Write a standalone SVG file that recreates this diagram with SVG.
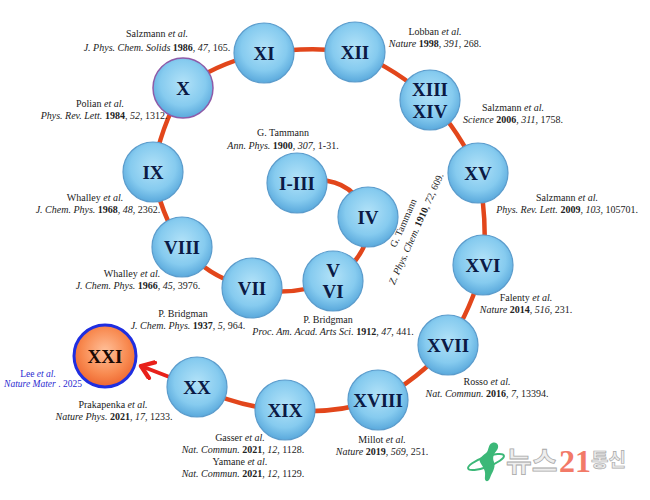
<svg xmlns="http://www.w3.org/2000/svg" width="650" height="500" viewBox="0 0 650 500">
<style>
.lbl{font-family:"Liberation Serif","Times New Roman",serif;font-size:10px;fill:#222;text-anchor:middle}
.i{font-style:italic}
.b{font-weight:bold}
.nt{font-family:"Liberation Serif","Times New Roman",serif;font-weight:bold;font-size:19px;fill:#0b1a45;text-anchor:middle}
.node{fill:url(#blue);stroke:#5b9ccc;stroke-width:1.2}
.con{fill:none;stroke:#e2461b;stroke-width:4.5;stroke-linecap:round}
</style>
<defs>
<radialGradient id="blue" cx="50%" cy="42%" r="58%">
<stop offset="0" stop-color="#b2e2f8"/>
<stop offset="0.65" stop-color="#86cbef"/>
<stop offset="1" stop-color="#5aa9dc"/>
</radialGradient>
<radialGradient id="orange" cx="50%" cy="42%" r="58%">
<stop offset="0" stop-color="#ffc09a"/>
<stop offset="0.65" stop-color="#f8894f"/>
<stop offset="1" stop-color="#ee6630"/>
</radialGradient>
<marker id="arr" viewBox="0 0 12 12" refX="9" refY="6" markerWidth="5" markerHeight="5" orient="auto" markerUnits="strokeWidth">
<path d="M2,1 L9,6 L2,11" fill="none" stroke="#e8201a" stroke-width="2.6" stroke-linecap="round" stroke-linejoin="round"/>
</marker>
</defs>
<rect width="650" height="500" fill="#ffffff"/>

<g id="connectors">
<path class="con" d="M297,183 Q350,170 368,217"/>
<path class="con" d="M368,217 Q372,255 333,280"/>
<path class="con" d="M333,280 Q292,298 252,288"/>
<path class="con" d="M252,288 Q212,280 182,247"/>
<path class="con" d="M182,247 Q160,212 153,172"/>
<path class="con" d="M153,172 Q160,128 183,88"/>
<path class="con" d="M183,88 Q218,62 264,53"/>
<path class="con" d="M264,53 Q309,46 355,52"/>
<path class="con" d="M355,52 Q398,70 430,100"/>
<path class="con" d="M430,100 Q460,132 478,173"/>
<path class="con" d="M478,173 Q488,219 483,265"/>
<path class="con" d="M483,265 Q472,308 448,345"/>
<path class="con" d="M448,345 Q418,380 378,400"/>
<path class="con" d="M378,400 Q331,415 285,410"/>
<path class="con" d="M285,410 Q241,408 197,387"/>
<path d="M172,378 L141,366" fill="none" stroke="#e8201a" stroke-width="4" stroke-linecap="round" marker-end="url(#arr)"/>
</g>

<g id="n-I-III"><circle class="node" cx="297" cy="183" r="30"/><text class="nt" x="297" y="189.5">I-III</text></g>
<g id="n-IV"><circle class="node" cx="368" cy="217" r="30"/><text class="nt" x="368" y="223.5">IV</text></g>
<g id="n-V-VI"><circle class="node" cx="333" cy="281" r="30"/><text class="nt" x="333" y="277">V</text><text class="nt" x="333" y="298">VI</text></g>
<g id="n-VII"><circle class="node" cx="252" cy="288" r="30"/><text class="nt" x="252" y="294.5">VII</text></g>
<g id="n-VIII"><circle class="node" cx="182" cy="247" r="30"/><text class="nt" x="182" y="253.5">VIII</text></g>
<g id="n-IX"><circle class="node" cx="153" cy="172" r="30"/><text class="nt" x="153" y="178.5">IX</text></g>
<g id="n-X"><circle class="node" cx="183" cy="88" r="30" style="stroke:#8e5ba8;stroke-width:1.5"/><text class="nt" x="183" y="94.5">X</text></g>
<g id="n-XI"><circle class="node" cx="264" cy="53" r="30"/><text class="nt" x="264" y="59.5">XI</text></g>
<g id="n-XII"><circle class="node" cx="355" cy="52" r="30"/><text class="nt" x="355" y="58.5">XII</text></g>
<g id="n-XIII-XIV"><circle class="node" cx="430" cy="100" r="30"/><text class="nt" x="430" y="96">XIII</text><text class="nt" x="430" y="118">XIV</text></g>
<g id="n-XV"><circle class="node" cx="478" cy="173" r="30"/><text class="nt" x="478" y="179.5">XV</text></g>
<g id="n-XVI"><circle class="node" cx="483" cy="265" r="30"/><text class="nt" x="483" y="271.5">XVI</text></g>
<g id="n-XVII"><circle class="node" cx="448" cy="345" r="30"/><text class="nt" x="448" y="351.5">XVII</text></g>
<g id="n-XVIII"><circle class="node" cx="378" cy="400" r="30"/><text class="nt" x="378" y="406.5">XVIII</text></g>
<g id="n-XIX"><circle class="node" cx="285" cy="410" r="30"/><text class="nt" x="285" y="416.5">XIX</text></g>
<g id="n-XX"><circle class="node" cx="197" cy="387" r="30"/><text class="nt" x="197" y="393.5">XX</text></g>
<g id="n-XXI"><circle cx="105" cy="356" r="31" fill="url(#orange)" stroke="#1f2ee0" stroke-width="3"/><text class="nt" x="105" y="362.5" style="fill:#1a0a05">XXI</text></g>

<g id="labels">
<text class="lbl" x="157" y="36.5">Salzmann <tspan class="i">et al.</tspan></text>
<text class="lbl" x="157" y="50.5"><tspan class="i">J. Phys. Chem. Solids</tspan> <tspan class="b">1986</tspan>, <tspan class="i">47</tspan>, 165.</text>

<text class="lbl" x="435" y="34.5">Lobban <tspan class="i">et al.</tspan></text>
<text class="lbl" x="435" y="47"><tspan class="i">Nature</tspan> <tspan class="b">1998</tspan>, <tspan class="i">391</tspan>, 268.</text>

<text class="lbl" x="513" y="111">Salzmann <tspan class="i">et al.</tspan></text>
<text class="lbl" x="513" y="123"><tspan class="i">Science</tspan> <tspan class="b">2006</tspan>, <tspan class="i">311</tspan>, 1758.</text>

<text class="lbl" x="283" y="136">G. Tammann</text>
<text class="lbl" x="283" y="149"><tspan class="i">Ann. Phys.</tspan> <tspan class="b">1900</tspan>, <tspan class="i">307</tspan>, 1-31.</text>

<g transform="translate(410,226) rotate(-66)">
<text class="lbl" x="0" y="-4">G. Tammann</text>
<text class="lbl" x="0" y="10"><tspan class="i">Z. Phys. Chem.</tspan> <tspan class="b">1910</tspan>, <tspan class="i">72</tspan>, 609.</text>
</g>

<text class="lbl" x="567" y="201">Salzmann <tspan class="i">et al.</tspan></text>
<text class="lbl" x="567" y="213"><tspan class="i">Phys. Rev. Lett.</tspan> <tspan class="b">2009</tspan>, <tspan class="i">103</tspan>, 105701.</text>

<text class="lbl" x="526" y="301">Falenty <tspan class="i">et al.</tspan></text>
<text class="lbl" x="526" y="313"><tspan class="i">Nature</tspan> <tspan class="b">2014</tspan>, <tspan class="i">516</tspan>, 231.</text>

<text class="lbl" x="487" y="385">Rosso <tspan class="i">et al.</tspan></text>
<text class="lbl" x="487" y="397"><tspan class="i">Nat. Commun.</tspan> <tspan class="b">2016</tspan>, <tspan class="i">7</tspan>, 13394.</text>

<text class="lbl" x="382" y="443">Millot <tspan class="i">et al.</tspan></text>
<text class="lbl" x="382" y="455"><tspan class="i">Nature</tspan> <tspan class="b">2019</tspan>, <tspan class="i">569</tspan>, 251.</text>

<text class="lbl" x="240" y="441">Gasser <tspan class="i">et al.</tspan></text>
<text class="lbl" x="243" y="453"><tspan class="i">Nat. Commun.</tspan> <tspan class="b">2021</tspan>, <tspan class="i">12</tspan>, 1128.</text>
<text class="lbl" x="240" y="465">Yamane <tspan class="i">et al.</tspan></text>
<text class="lbl" x="243" y="477"><tspan class="i">Nat. Commun.</tspan> <tspan class="b">2021</tspan>, <tspan class="i">12</tspan>, 1129.</text>

<text class="lbl" x="113" y="408">Prakapenka <tspan class="i">et al.</tspan></text>
<text class="lbl" x="114" y="420"><tspan class="i">Nature Phys.</tspan> <tspan class="b">2021</tspan>, <tspan class="i">17</tspan>, 1233.</text>

<text class="lbl" x="38" y="376.5" style="fill:#2a2ad0;font-size:9.5px">Lee <tspan class="i">et al.</tspan></text>
<text class="lbl" x="43" y="387" style="fill:#2a2ad0;font-size:9.5px"><tspan class="i">Nature Mater</tspan> . 2025</text>

<text class="lbl" x="183" y="317">P. Bridgman</text>
<text class="lbl" x="188" y="329"><tspan class="i">J. Chem. Phys.</tspan> <tspan class="b">1937</tspan>, <tspan class="i">5</tspan>, 964.</text>

<text class="lbl" x="328" y="323">P. Bridgman</text>
<text class="lbl" x="333" y="335"><tspan class="i">Proc. Am. Acad. Arts Sci.</tspan> <tspan class="b">1912</tspan>, <tspan class="i">47</tspan>, 441.</text>

<text class="lbl" x="132" y="277">Whalley <tspan class="i">et al.</tspan></text>
<text class="lbl" x="138" y="289"><tspan class="i">J. Chem. Phys.</tspan> <tspan class="b">1966</tspan>, <tspan class="i">45</tspan>, 3976.</text>

<text class="lbl" x="95" y="201">Whalley <tspan class="i">et al.</tspan></text>
<text class="lbl" x="98" y="213"><tspan class="i">J. Chem. Phys.</tspan> <tspan class="b">1968</tspan>, <tspan class="i">48</tspan>, 2362.</text>

<text class="lbl" x="100" y="106.5">Polian <tspan class="i">et al.</tspan></text>
<text class="lbl" x="104" y="118.5"><tspan class="i">Phys. Rev. Lett.</tspan> <tspan class="b">1984</tspan>, <tspan class="i">52</tspan>, 1312.</text>
</g>

<g id="watermark">
<path d="M492,443 C497,441 500,446 497,450 C494,454 492,457 494,462 C496,468 492,472 490,478 C488,483 484,482 485,476 C486,470 482,466 480,462 C478,458 484,455 487,452 C489,449 488,445 492,443 Z" fill="#3cb878"/>
<ellipse cx="486" cy="462" rx="19" ry="5" transform="rotate(-20 486 462)" fill="none" stroke="#3cb878" stroke-width="2"/>
<text x="506" y="472" style="font-family:'Noto Sans CJK KR',sans-serif;font-weight:bold;font-size:28px;fill:#eeeeee;stroke:#a8a8a8;stroke-width:0.8">뉴스</text>
<text x="559" y="472" style="font-family:'Liberation Serif',serif;font-weight:bold;font-size:32px;fill:#f27a68">21</text>
<text x="591" y="467" style="font-family:'Noto Sans CJK KR',sans-serif;font-weight:bold;font-size:19px;fill:#eeeeee;stroke:#a8a8a8;stroke-width:0.7">통신</text>
</g>
</svg>
